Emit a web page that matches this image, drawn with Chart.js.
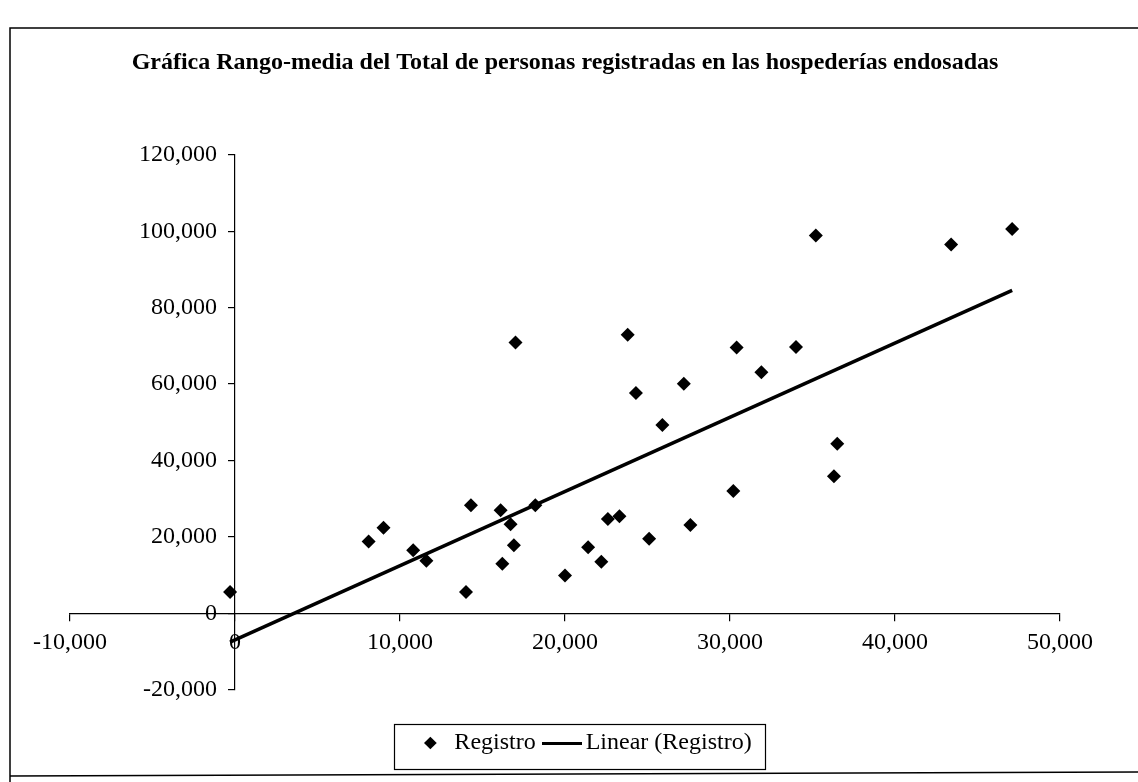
<!DOCTYPE html>
<html>
<head>
<meta charset="utf-8">
<script src="https://cdn.jsdelivr.net/npm/chart.js@4.4.1/dist/chart.umd.min.js"></script>
<style>
  html, body { margin: 0; padding: 0; background: #ffffff; }
  #wrap { width: 1138px; height: 782px; position: relative; }
</style>
</head>
<body>
<div id="wrap"><canvas id="c"></canvas></div>
<script>
// ---- data ----
const titleText = 'Gráfica Rango-media del Total de personas registradas en las hospederías endosadas';
const seriesName = 'Registro';
const trendName = 'Linear (Registro)';
const registroX = [-300, 8100, 9000, 10800, 11600, 14000, 14300, 16100, 16200, 16700, 16900, 17000, 18200,
  20000, 21400, 22200, 22600, 23300, 23800, 24300, 25100, 25900, 27200, 27600, 30200, 30400, 31900,
  34000, 35200, 36300, 36500, 43400, 47100];
const registroY = [5600, 18800, 22400, 16500, 13800, 5600, 28300, 27000, 13000, 23300, 17800, 70900, 28300,
  9900, 17300, 13500, 24700, 25400, 72900, 57700, 19500, 49300, 60100, 23100, 32000, 69600, 63100,
  69700, 98900, 35900, 44400, 96500, 100600];
const trendX = [-300, 47100];
const trendY = [-7500, 84500];
const xTicks = [-10000, 0, 10000, 20000, 30000, 40000, 50000];
const yTicks = [-20000, 0, 20000, 40000, 60000, 80000, 100000, 120000];

const serif = "'Liberation Serif', 'Times New Roman', serif";
const fmt = v => Number(v).toLocaleString('en-US');

// legend line marker (longer than Chart.js' default line point style)
const lineMark = document.createElement('canvas');
lineMark.width = 40; lineMark.height = 3;
(function(){ const c = lineMark.getContext('2d'); c.fillStyle = '#000'; c.fillRect(0, 0, 40, 3); })();

const framePlugin = {
  id: 'frame',
  afterLayout(chart) {
    // the value axis crosses the horizontal axis at x = 0
    const y = chart.scales.y, x = chart.scales.x;
    const px = x.getPixelForValue(0);
    y.left = 0; y.right = px;
    // the legend sits a little right of centre in the original
    const lg = chart.legend;
    if (lg) { lg.left += 20; lg.right += 20; }
  },
  beforeDraw(chart) {
    const ctx = chart.ctx;
    ctx.save();
    ctx.fillStyle = '#fff';
    ctx.fillRect(0, 0, chart.width, chart.height);
    ctx.strokeStyle = '#000';
    ctx.lineWidth = 1.5;
    ctx.beginPath();
    ctx.moveTo(10, 782); ctx.lineTo(10, 28); ctx.lineTo(1138, 28);
    ctx.moveTo(10, 776); ctx.lineTo(1138, 772);
    ctx.stroke();
    ctx.restore();
  },
  afterDraw(chart) {
    const lg = chart.legend;
    if (!lg || !lg.legendHitBoxes || !lg.legendHitBoxes.length) return;
    const hb = lg.legendHitBoxes;
    const first = hb[0], last = hb[hb.length - 1];
    const cy = first.top + first.height / 2;
    const ctx = chart.ctx;
    ctx.save();
    ctx.strokeStyle = '#000';
    ctx.lineWidth = 1.2;
    const l = first.left - 24, r = last.left + last.width + 14;
    const t = cy - 19, b = cy + 26;
    ctx.strokeRect(Math.round(l) + 0.5, Math.round(t) + 0.5, Math.round(r - l), Math.round(b - t));
    ctx.restore();
  }
};

const scatterData = registroX.map((x, i) => ({ x: x, y: registroY[i] }));
const trendData = trendX.map((x, i) => ({ x: x, y: trendY[i] }));

new Chart(document.getElementById('c'), {
  type: 'scatter',
  data: {
    datasets: [
      {
        label: seriesName,
        data: scatterData,
        pointStyle: 'rectRot',
        pointRadius: 7,
        pointHoverRadius: 7,
        backgroundColor: '#000',
        borderColor: '#000',
        borderWidth: 0,
        order: 1
      },
      {
        label: trendName,
        data: trendData,
        type: 'line',
        showLine: true,
        borderColor: '#000',
        backgroundColor: '#000',
        borderWidth: 3.5,
        pointRadius: 0,
        pointStyle: 'line',
        fill: false,
        order: 2
      }
    ]
  },
  plugins: [framePlugin],
  options: {
    responsive: true,
    maintainAspectRatio: false,
    animation: false,
    devicePixelRatio: 1,
    layout: { padding: { left: 70, right: 78, top: 0, bottom: 17 } },
    plugins: {
      tooltip: { enabled: false },
      title: {
        display: true,
        text: titleText,
        color: '#000',
        font: { family: serif, size: 24, weight: 'bold' },
        padding: { top: 48, bottom: 78 }
      },
      legend: {
        display: true,
        position: 'bottom',
        title: { display: true, text: ' ', font: { size: 1 }, padding: { top: 0, bottom: 26 } },
        labels: {
          usePointStyle: true,
          boxHeight: 9,
          padding: 14,
          color: '#000',
          font: { family: serif, size: 24 },
          generateLabels(chart) {
            const items = Chart.defaults.plugins.legend.labels.generateLabels(chart);
            items.forEach(it => {
              if (it.text === trendName) { it.pointStyle = lineMark; }
              it.fillStyle = '#000'; it.strokeStyle = '#000';
            });
            return items;
          }
        }
      }
    },
    scales: {
      x: {
        type: 'linear',
        position: { y: 0 },
        min: -10000,
        max: 50000,
        afterFit(s) { s.height = 0; },
        afterBuildTicks(s) { s.ticks = xTicks.map(v => ({ value: v })); },
        grid: { display: true, drawOnChartArea: false, drawTicks: true, tickLength: 7, color: '#000', lineWidth: 1.2 },
        border: { display: true, color: '#000', width: 1.2 },
        ticks: { color: '#000', font: { family: serif, size: 24 }, padding: 8, maxRotation: 0, autoSkip: false, callback: v => fmt(v) }
      },
      y: {
        type: 'linear',
        position: 'left',
        min: -20000,
        max: 120000,
        afterFit(s) { s.width = 0; },
        afterBuildTicks(s) { s.ticks = yTicks.map(v => ({ value: v })); },
        grid: { display: true, drawOnChartArea: false, drawTicks: true, tickLength: 7, color: '#000', lineWidth: 1.2 },
        border: { display: true, color: '#000', width: 1.2 },
        ticks: { color: '#000', font: { family: serif, size: 24 }, padding: 11, autoSkip: false, callback: v => fmt(v) }
      }
    }
  }
});
</script>
</body>
</html>
